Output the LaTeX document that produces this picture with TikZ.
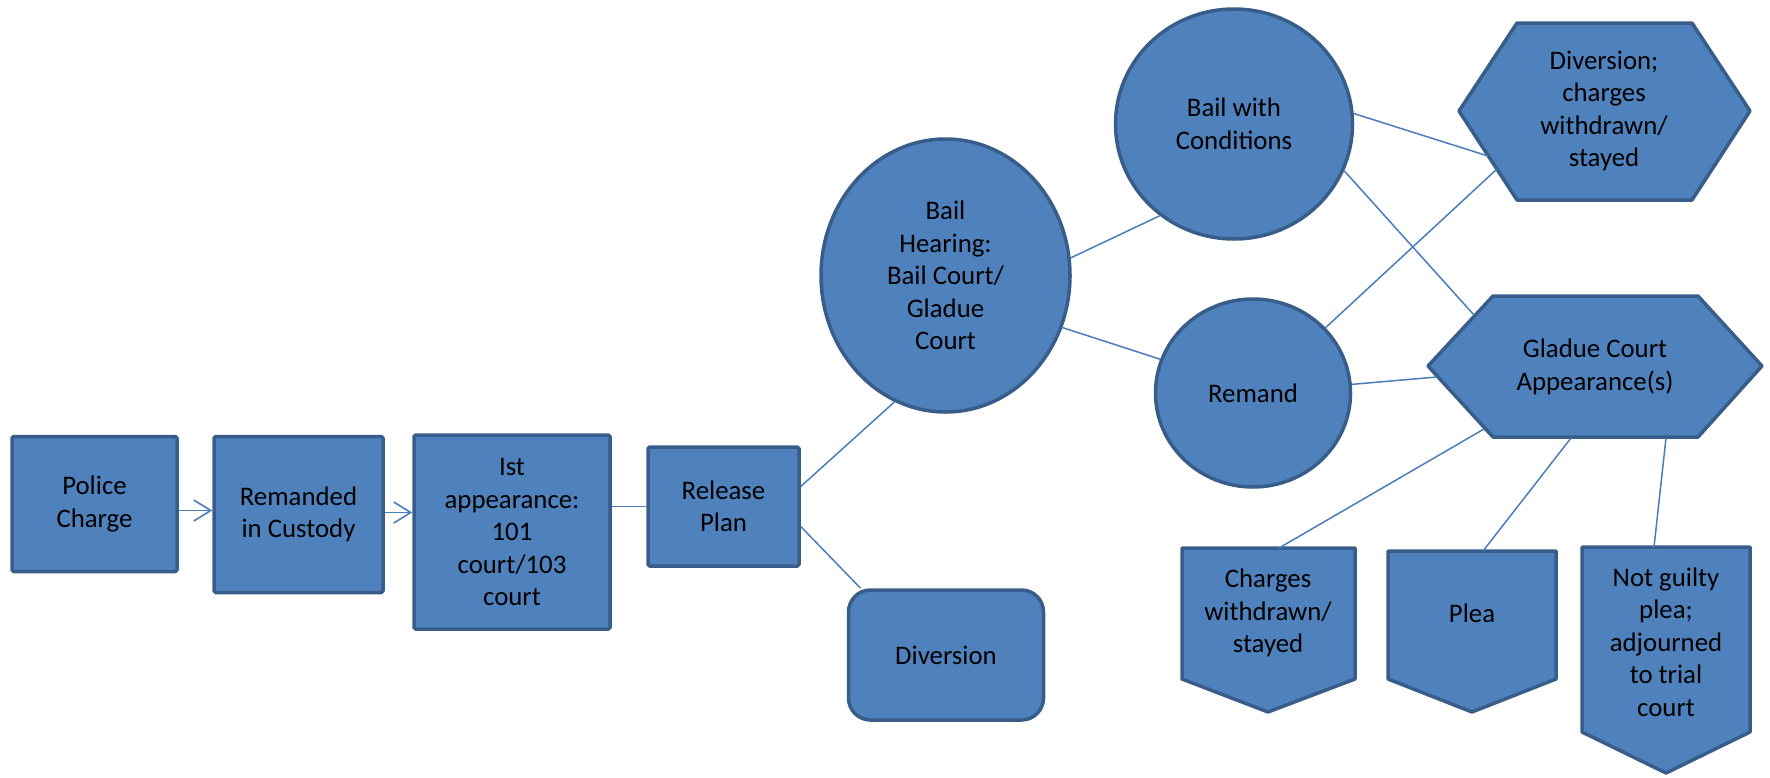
\documentclass[tikz,border=0pt]{standalone}
\usepackage{fontspec}
\setmainfont{Carlito}
\usetikzlibrary{shapes.geometric,arrows.meta}
\definecolor{fillc}{HTML}{4F81BD}
\definecolor{edgec}{HTML}{385D8A}
\definecolor{linec}{HTML}{4A7EBB}
\newcommand\lblfont{\fontsize{26.8}{32.5}\selectfont}
\begin{document}
\begin{tikzpicture}[x=1pt,y=-1pt,
  shp/.style={fill=fillc, draw=edgec, line width=3.5pt, line join=round},
  box/.style={shp, rectangle, rounded corners=1.5pt, inner sep=0pt, align=center, font=\lblfont},
  oval/.style={shp, ellipse, inner sep=0pt, align=center, font=\lblfont},
  lbl/.style={inner sep=0pt, align=center, font=\lblfont},
  conn/.style={draw=linec, line width=1.5pt},
  arr/.style={conn, -{Straight Barb[length=17pt,width=21pt,line width=1.6pt]}}
]
\useasboundingbox (0,0) rectangle (1770,777);

% rectangles
\node[box, minimum width=165pt, minimum height=135pt] (police) at (94.5,504) {Police\\Charge};
\node[box, minimum width=169pt, minimum height=156pt] (remanded) at (298.5,514.5) {Remanded\\in Custody};
\node[box, minimum width=196pt, minimum height=194pt] (ist) at (512,532) {Ist\\appearance:\\101\\court/103\\court};
\node[box, minimum width=151pt, minimum height=119pt] (release) at (723.5,506.5) {Release\\Plan};
\node[box, rounded corners=22pt, minimum width=195pt, minimum height=130pt] (diversion) at (946,655) {Diversion};

% ovals
\node[oval, minimum width=249pt, minimum height=273pt] (bh) at (945.5,275.5) {Bail\\Hearing:\\Bail Court/\\Gladue\\Court};
\node[oval, minimum width=237pt, minimum height=230pt] (bwc) at (1234,124) {Bail with\\Conditions};
\node[oval, minimum width=195pt, minimum height=188pt] (remand) at (1253,393) {Remand};

% hexagons
\draw[shp] (1459,111) -- (1517,23) -- (1692,23) -- (1750,111) -- (1692,200) -- (1517,200) -- cycle;
\node[lbl] (dh) at (1604,111) {Diversion;\\charges\\withdrawn/\\stayed};
\draw[shp] (1428,366) -- (1493,296) -- (1698,296) -- (1762,366) -- (1698,437) -- (1493,437) -- cycle;
\node[lbl] (gl) at (1595,367) {Gladue Court\\Appearance(s)};

% down pentagons
\draw[shp] (1182,548) -- (1355,548) -- (1355,679) -- (1268,712) -- (1182,679) -- cycle;
\node[lbl] (cw) at (1268,613) {Charges\\withdrawn/\\stayed};
\draw[shp] (1388,551) -- (1556,551) -- (1556,679) -- (1472,712) -- (1388,679) -- cycle;
\node[lbl] (plea) at (1472,613) {Plea};
\draw[shp] (1582,547) -- (1750,547) -- (1750,732) -- (1666,773) -- (1582,732) -- cycle;
\node[lbl] (ng) at (1666,642) {Not guilty\\plea;\\adjourned\\to trial\\court};

% border points of the drawn shapes
\coordinate (dhA) at (1488,156);
\coordinate (dhB) at (1497,169);
\coordinate (glA) at (1474,315);
\coordinate (glB) at (1437,377);
\coordinate (glC) at (1484,429);
\coordinate (glD) at (1571,438);
\coordinate (glE) at (1666,438);
\coordinate (cwT) at (1279,548);
\coordinate (pleaT) at (1483,551);
\coordinate (ngT) at (1654,547);

% connectors
\draw[arr] ([yshift=4pt]remanded.west -| police.east) -- ([yshift=4pt]remanded.west);
\draw[arr] ([yshift=2pt]remanded.east) -- ([yshift=2pt]remanded.east -| ist.west);
\draw[conn] (ist.east |- release.west) -- (release.west);
\draw[conn] ([yshift=20pt]release.east) -- (bh.248);
\draw[conn] ([yshift=-20pt]release.east) -- (diversion.142);
\draw[conn] (bh.8) -- (bwc.231);
\draw[conn] (bh.-24) -- (remand.160);
\draw[conn] (bwc.5) -- (dhA);
\draw[conn] (bwc.-23) -- (glA);
\draw[conn] (remand.42) -- (dhB);
\draw[conn] (remand.5) -- (glB);
\draw[conn] (glC) -- (cwT);
\draw[conn] (glD) -- (pleaT);
\draw[conn] (glE) -- (ngT);
\end{tikzpicture}
\end{document}
